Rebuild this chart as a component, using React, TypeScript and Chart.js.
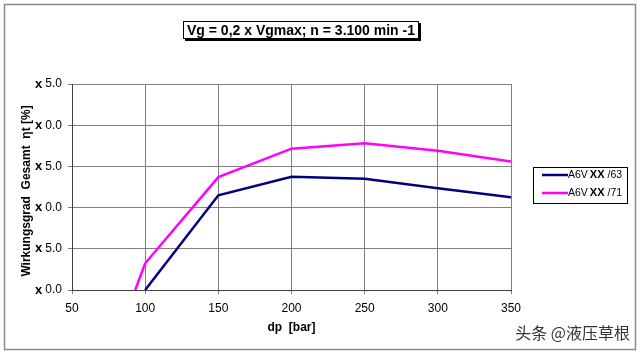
import React, { useEffect, useRef } from "react";
import { Chart, registerables } from "chart.js";

Chart.register(...registerables);

const FONT = "Arial, 'Liberation Sans', sans-serif";

const titleText = "Vg = 0,2 x Vgmax; n = 3.100 min -1";
const xTitle = "dp  [bar]";
const yTitle = "Wirkungsgrad  Gesamt  ηt [%]";
const xMin = 50;
const xMax = 350;
const xStep = 50;
const yMin = 0;
const yMax = 25;
const yStep = 5;
const yTickPrefix = ["x", "x", "x", "x", "x", "x"];
const yTickNumbers = ["0.0", "5.0", "0.0", "5.0", "0.0", "5.0"];
const series63Name = ["A6V", "XX", "/63"];
const series71Name = ["A6V", "XX", "/71"];
const dp63 = [100, 150, 200, 250, 300, 350];
const eta63 = [0, 11.5, 13.75, 13.5, 12.35, 11.25];
const dp71 = [93.2, 100, 150, 200, 250, 300, 350];
const eta71 = [0, 3.24, 13.7, 17.15, 17.8, 16.9, 15.6];
const color63 = "#000080";
const color71 = "#ff00ff";
const watermark = "头条 @液压草根";

const decorPlugin = {
  id: "decor",
  beforeDraw(chart: any) {
    const ctx = chart.ctx;
    ctx.save();
    ctx.fillStyle = "#ffffff";
    ctx.fillRect(0, 0, chart.width, chart.height);
    ctx.restore();
  },
  afterDraw(chart: any) {
    const ctx = chart.ctx;
    ctx.save();
    // outer frame
    ctx.strokeStyle = "#8a8a8a";
    ctx.lineWidth = 1.5;
    ctx.strokeRect(4.5, 4.5, 631, 345);

    // title box with shadow
    const tx = 183, ty = 21, tw = 236, th = 18;
    ctx.fillStyle = "#000";
    ctx.fillRect(tx + 2, ty + 2, tw, th);
    ctx.fillStyle = "#fff";
    ctx.fillRect(tx, ty, tw, th);
    ctx.strokeStyle = "#000";
    ctx.lineWidth = 1;
    ctx.strokeRect(tx + 0.5, ty + 0.5, tw - 1, th - 1);
    ctx.fillStyle = "#000";
    ctx.font = `bold 14px ${FONT}`;
    ctx.textAlign = "center";
    ctx.textBaseline = "middle";
    ctx.fillText(titleText, tx + tw / 2, ty + th / 2 + 1);

    // y axis title
    ctx.save();
    ctx.translate(27, 191);
    ctx.rotate(-Math.PI / 2);
    ctx.font = `bold 12px ${FONT}`;
    ctx.textAlign = "center";
    ctx.textBaseline = "middle";
    ctx.fillText(yTitle, 0, 0);
    ctx.restore();

    // y tick prefixes
    const ys = chart.scales.y;
    ctx.textAlign = "right";
    ctx.textBaseline = "middle";
    ys.ticks.forEach((t: any, i: number) => {
      const py = ys.getPixelForValue(t.value);
      ctx.font = `12px ${FONT}`;
      const w = ctx.measureText(yTickNumbers[i] ?? "").width;
      ctx.font = `bold 13px ${FONT}`;
      ctx.fillText(yTickPrefix[i] ?? "", 62 - w - 3, py);
    });

    // legend
    const lx = 533, ly = 167, lw = 94, lh = 36;
    ctx.fillStyle = "#fff";
    ctx.fillRect(lx, ly, lw, lh);
    ctx.strokeStyle = "#000";
    ctx.lineWidth = 1;
    ctx.strokeRect(lx + 0.5, ly + 0.5, lw, lh);
    const items = [
      { name: series63Name, color: color63, y: 175 },
      { name: series71Name, color: color71, y: 193 },
    ];
    items.forEach((it) => {
      ctx.strokeStyle = it.color;
      ctx.lineWidth = 2.5;
      ctx.beginPath();
      ctx.moveTo(542, it.y);
      ctx.lineTo(568, it.y);
      ctx.stroke();
      ctx.fillStyle = "#000";
      ctx.textAlign = "left";
      ctx.textBaseline = "middle";
      let x = 568;
      ctx.font = `10.5px ${FONT}`;
      ctx.fillText(it.name[0], x, it.y);
      x += ctx.measureText(it.name[0]).width + 2;
      ctx.font = `bold 11px ${FONT}`;
      ctx.fillText(it.name[1], x, it.y);
      x += ctx.measureText(it.name[1]).width + 3;
      ctx.font = `10.5px ${FONT}`;
      ctx.fillText(it.name[2], x, it.y);
    });

    // watermark
    ctx.fillStyle = "#333";
    ctx.font = `16px 'Noto Sans CJK SC', sans-serif`;
    ctx.textAlign = "right";
    ctx.textBaseline = "middle";
    ctx.fillText(watermark, 630, 333);
    ctx.restore();
  },
};

export default function App() {
  const ref = useRef<HTMLCanvasElement | null>(null);
  useEffect(() => {
    if (!ref.current) return;
    const chart = new Chart(ref.current, {
      type: "line",
      data: {
        datasets: [
          {
            label: series63Name.join(" "),
            data: dp63.map((x, i) => ({ x, y: eta63[i] })),
            borderColor: color63,
            backgroundColor: color63,
            borderWidth: 2.5,
            pointRadius: 0,
            tension: 0,
          },
          {
            label: series71Name.join(" "),
            data: dp71.map((x, i) => ({ x, y: eta71[i] })),
            borderColor: color71,
            backgroundColor: color71,
            borderWidth: 2.5,
            pointRadius: 0,
            tension: 0,
          },
        ],
      },
      options: {
        responsive: false,
        animation: false,
        devicePixelRatio: 1,
        layout: { padding: { left: 0, top: 84, right: 129, bottom: 0 } },
        plugins: { legend: { display: false }, tooltip: { enabled: false }, title: { display: false } },
        scales: {
          x: {
            type: "linear",
            min: xMin,
            max: xMax,
            afterFit: (s: any) => {
              s.height = 64;
            },
            ticks: {
              stepSize: xStep,
              color: "#000",
              font: { family: FONT, size: 12 },
              padding: 7,
              maxRotation: 0,
              autoSkip: false,
            },
            grid: { color: "#808080", lineWidth: 1, tickLength: 4 },
            border: { color: "#404040", width: 1 },
            title: {
              display: true,
              text: xTitle,
              color: "#000",
              font: { family: FONT, size: 12, weight: "bold" },
              padding: { top: 0, bottom: 19 },
            },
          },
          y: {
            type: "linear",
            min: yMin,
            max: yMax,
            afterFit: (s: any) => {
              s.width = 72;
            },
            ticks: {
              stepSize: yStep,
              color: "#000",
              font: { family: FONT, size: 12 },
              padding: 6,
              callback: (_v: any, i: number) => yTickNumbers[i] ?? "",
            },
            grid: { color: "#808080", lineWidth: 1, tickLength: 4 },
            border: { color: "#404040", width: 1 },
            title: { display: false },
          },
        },
      },
      plugins: [decorPlugin],
    } as any);
    return () => chart.destroy();
  }, []);
  return (
    <div style={{ position: "fixed", left: 0, top: 0, width: 640, height: 354 }}>
      <canvas ref={ref} width={640} height={354} />
    </div>
  );
}
